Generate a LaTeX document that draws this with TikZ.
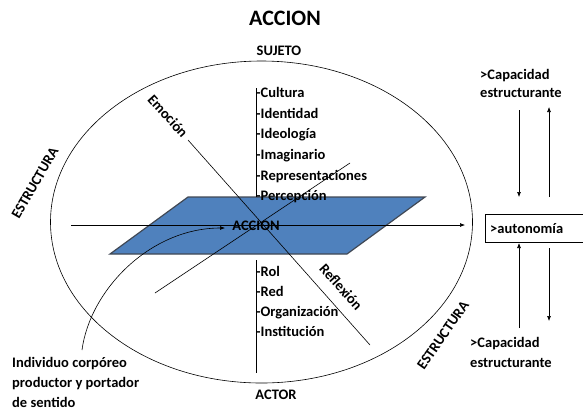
\documentclass[tikz,border=0pt]{standalone}
\usepackage{fontspec}
\setmainfont{Carlito}
\usetikzlibrary{arrows.meta}
\begin{document}
\begin{tikzpicture}[x=1bp,y=-1bp,
  txt/.style={font=\bfseries\fontsize{14.5bp}{17bp}\selectfont, inner sep=0pt},
  lst/.style={txt, anchor=base west},
  ln/.style={draw=black, line width=0.6bp},
  arr/.style={ln, -{Latex[length=5bp,width=4bp]}},
]
\useasboundingbox (0,0) rectangle (583,414);
% ellipse
\draw[line width=0.6bp] (261.5,222) ellipse [x radius=211, y radius=161];
% plane
\filldraw[fill=blue!0!black!0, fill={rgb,255:red,79;green,129;blue,189}, draw={rgb,255:red,64;green,72;blue,84}, line width=1.2bp]
  (110,254) -- (188,197) -- (425,197) -- (347,254) -- cycle;
% named points
\coordinate (hA) at (71,225);
\coordinate (hB) at (465,225);
\coordinate (e1) at (188,140);
\coordinate (e2) at (370,345);
\coordinate (d1) at (155,293);
\coordinate (d2) at (350,163);
\coordinate (vu1) at (256,88);
\coordinate (vu2) at (256,197);
\coordinate (vl1) at (256,260);
\coordinate (vl2) at (256,373);
\coordinate (c0) at (82,350);
\coordinate (c3) at (225,228);
% lines
\draw[arr] (hA) -- (hB);
\draw[ln] (e1) -- (e2);
\draw[ln] (d1) -- (d2);
\draw[ln] (vu1) -- (vu2);
\draw[ln] (vl1) -- (vl2);
\draw[arr] (c0) .. controls (90,290) and (150,228) .. (c3);
% texts
\node[txt, font=\bfseries\fontsize{22bp}{26bp}\selectfont] (title) at (285,18) {ACCION};
\node[txt] (sujeto) at (279,51) {SUJETO};
\node[txt] (actor) at (276,395) {ACTOR};
\node[txt] (accion) at (256,226) {ACCION};
\node[lst] (l1) at (256,97.7) {-Cultura};
\node[lst] (l2) at (256,118.3) {-Identidad};
\node[lst] (l3) at (256,138.9) {-Ideología};
\node[lst] (l4) at (256,159.5) {-Imaginario};
\node[lst] (l5) at (256,180.1) {-Representaciones};
\node[lst] (l6) at (256,200.7) {-Percepción};
\node[lst] (r1) at (256,276.7) {-Rol};
\node[lst] (r2) at (256,296.7) {-Red};
\node[lst] (r3) at (256,316.7) {-Organización};
\node[lst] (r4) at (256,336.7) {-Institución};
\node[txt, rotate=-48] (emo) at (168,116) {Emoción};
\node[txt, rotate=-48] (refl) at (341,287) {Reflexión};
\node[txt, rotate=60] (estL) at (35,183) {ESTRUCTURA};
\node[txt, rotate=55] (estR) at (443,335) {ESTRUCTURA};
\node[lst] (ind1) at (12,367.7) {Individuo corpóreo};
\node[lst] (ind2) at (12,387.7) {productor y portador};
\node[lst] (ind3) at (12,407) {de sentido};
\node[lst] (cap1a) at (480,79.7) {>Capacidad};
\node[lst] (cap1b) at (480,97.7) {estructurante};
\node[lst] (cap2a) at (470,347.7) {>Capacidad};
\node[lst] (cap2b) at (470,367.7) {estructurante};
% autonomia box
\draw[line width=0.8bp] (485,214) rectangle (590,242);
\node[lst] (auto) at (490,233.5) {>autonomía};
% right arrows
\coordinate (a1s) at (519,110); \coordinate (a1e) at (519,197);
\coordinate (a2s) at (549,197); \coordinate (a2e) at (549,107);
\coordinate (a3s) at (519,328); \coordinate (a3e) at (519,243);
\coordinate (a4s) at (549,248); \coordinate (a4e) at (549,321);
\draw[arr] (a1s) -- (a1e);
\draw[arr] (a2s) -- (a2e);
\draw[arr] (a3s) -- (a3e);
\draw[arr] (a4s) -- (a4e);
\end{tikzpicture}
\end{document}
